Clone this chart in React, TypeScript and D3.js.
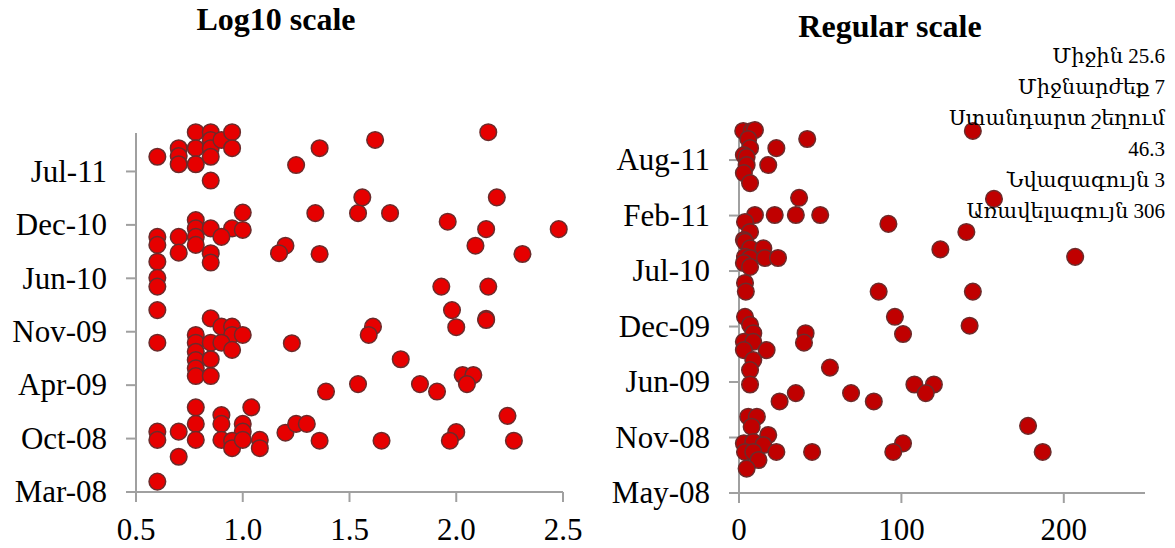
import React from "react";
import * as d3 from "d3";

// ---------- DATA (y = Excel date serial, x = value) ----------
// Left panel: x = log10(value)
const leftLogX: number[] = [
  0.60, 0.70, 0.70, 0.70, 0.78, 0.78, 0.78, 0.85, 0.85, 0.85, 0.85, 0.85, 0.90, 0.95, 0.95, 1.25, 1.36, 1.62, 2.15,
  1.00, 0.78, 0.78, 0.85, 0.95, 1.00, 0.90, 0.60, 0.60, 0.70, 0.78, 0.78, 0.70, 0.85, 0.85, 0.60, 0.60, 0.60, 0.60,
  1.20, 1.17, 1.34, 1.36, 1.54, 1.56, 1.69, 1.96, 2.14, 2.09, 2.19, 2.48, 2.31, 1.93, 2.15, 1.98, 2.14,
  0.85, 0.90, 0.95, 0.78, 0.95, 1.00, 0.60, 0.78, 0.85, 0.90, 0.78, 0.95, 0.78, 0.85, 0.78, 0.78, 0.85,
  1.23, 1.61, 1.59, 2.00, 2.14, 1.74, 2.03, 2.08, 2.05, 1.83, 1.91, 1.54, 1.39,
  0.78, 1.04, 0.60, 0.60, 0.70, 0.78, 0.78, 0.90, 0.90, 0.90, 1.00, 1.00, 0.95, 0.95, 1.00, 1.08, 1.08, 0.70, 0.60,
  1.20, 1.25, 1.30, 1.36, 1.65, 2.00, 1.97, 2.24, 2.27,
];
const leftDate: number[] = [
  40787, 40819, 40790, 40759, 40879, 40819, 40759, 40879, 40850, 40819, 40787, 40698, 40850, 40879, 40819, 40756, 40819, 40850, 40879,
  40578, 40550, 40519, 40519, 40519, 40513, 40487, 40487, 40457, 40487, 40487, 40457, 40428, 40426, 40391, 40394, 40334, 40301, 40213,
  40454, 40426, 40576, 40423, 40576, 40635, 40576, 40544, 40516, 40454, 40635, 40516, 40423, 40301, 40301, 40213, 40180,
  40182, 40151, 40151, 40120, 40120, 40120, 40091, 40091, 40091, 40091, 40057, 40064, 40026, 40029, 39995, 39966, 39966,
  40089, 40151, 40120, 40149, 40176, 40029, 39970, 39970, 39936, 39936, 39908, 39936, 39908,
  39849, 39849, 39758, 39727, 39758, 39787, 39727, 39820, 39787, 39727, 39787, 39758, 39724, 39696, 39727, 39727, 39696, 39664, 39571,
  39754, 39787, 39787, 39724, 39724, 39756, 39724, 39817, 39724,
];

// Right panel: regular values
const rightX: number[] = [
  2.6, 7.8, 9.8, 5.7, 6.8, 23, 42, 144, 3, 4.7, 4.7, 18, 3, 6.8,
  37, 157, 9.8, 22, 35, 50, 92, 3.7, 6.8, 140, 3, 3.7, 6.8, 15, 124, 3.7, 6.8, 16, 24, 207, 3, 6.8, 3.7, 86, 144, 4.2,
  3.7, 96, 6.8, 142, 8.8, 41, 101, 3, 8.8, 40, 3, 17, 8.8, 56, 6.8, 6.8, 108, 120, 115, 35, 69, 25, 83,
  5.7, 11, 7.8, 178, 18, 3, 8.8, 15, 101, 3.7, 8.8, 23, 45, 95, 187, 12, 4.7,
];
const rightDate: number[] = [
  40881, 40881, 40884, 40852, 40819, 40819, 40852, 40881, 40794, 40787, 40758, 40758, 40729, 40693,
  40640, 40636, 40578, 40578, 40578, 40578, 40546, 40553, 40517, 40517, 40488, 40481, 40458, 40458, 40454, 40427, 40423, 40423, 40423, 40427, 40405, 40391, 40333, 40302, 40302, 40302,
  40211, 40211, 40182, 40179, 40152, 40152, 40149, 40121, 40121, 40118, 40091, 40091, 40055, 40028, 40019, 39967, 39967, 39967, 39936, 39936, 39936, 39906, 39906,
  39851, 39851, 39815, 39818, 39785, 39755, 39760, 39749, 39755, 39724, 39724, 39724, 39724, 39724, 39724, 39695, 39664,
];

const leftXTicks = [0.5, 1.0, 1.5, 2.0, 2.5];
const rightXTicks = [0, 100, 200];
const leftYStart = 39532; // Mar-08
const rightYStart = 39576; // May-08
const dateStep = 200;
const leftYTicks = d3.range(7).map((i) => leftYStart + i * dateStep);
const rightYTicks = d3.range(7).map((i) => rightYStart + i * dateStep);

const titles = ["Log10 scale", "Regular scale"];
const statsLines = [
  "Միջին 25.6",
  "Միջնարժեք 7",
  "Ստանդարտ շեղում",
  "46.3",
  "Նվազագույն 3",
  "Առավելագույն 306",
];

// ---------- helpers ----------
const serialToDate = (s: number) => new Date(Date.UTC(1899, 11, 30) + s * 864e5);
const fmtDate = d3.utcFormat("%b-%y");
const FONT = "'Liberation Serif', 'DejaVu Serif', 'Times New Roman', serif";
const AXIS = "#A0A0A0";
const TICK_FS = 31;

type PanelProps = {
  xs: number[];
  ys: number[];
  xScale: d3.ScaleLinear<number, number>;
  yScale: d3.ScaleLinear<number, number>;
  xTicks: number[];
  xFmt: (v: number) => string;
  yTicks: number[];
  fill: string;
};

function Panel({ xs, ys, xScale, yScale, xTicks, xFmt, yTicks, fill }: PanelProps) {
  const [x0, x1] = xScale.range();
  const [yb, yt] = yScale.range();
  return (
    <g>
      <line x1={x0} x2={x0} y1={yt} y2={yb} stroke={AXIS} strokeWidth={2} />
      <line x1={x0} x2={x1} y1={yb} y2={yb} stroke={AXIS} strokeWidth={2} />
      {yTicks.map((t) => (
        <g key={"y" + t}>
          <line x1={x0 - 10} x2={x0} y1={yScale(t)} y2={yScale(t)} stroke={AXIS} strokeWidth={2} />
          <text x={x0 - 29} y={yScale(t) + 10.3} textAnchor="end" fontSize={TICK_FS} fontFamily={FONT} fill="#000">
            {fmtDate(serialToDate(t))}
          </text>
        </g>
      ))}
      {xTicks.map((t) => (
        <g key={"x" + t}>
          <line x1={xScale(t)} x2={xScale(t)} y1={yb} y2={yb + 10} stroke={AXIS} strokeWidth={2} />
          <text x={xScale(t)} y={540} textAnchor="middle" fontSize={TICK_FS} fontFamily={FONT} fill="#000">
            {xFmt(t)}
          </text>
        </g>
      ))}
      {xs.map((v, i) => (
        <circle
          key={i}
          cx={xScale(v)}
          cy={yScale(ys[i])}
          r={8.3}
          fill={fill}
          stroke="#6B2B2B"
          strokeWidth={1.5}
        />
      ))}
    </g>
  );
}

export default function App() {
  const xL = d3.scaleLinear().domain([0.5, 2.5]).range([136, 563]);
  const yL = d3.scaleLinear().domain([leftYStart, leftYStart + 1344]).range([492, 133]);
  const xR = d3.scaleLinear().domain([0, 250]).range([739, 1145]);
  const yR = d3.scaleLinear().domain([rightYStart, rightYStart + 1330]).range([493, 124]);

  return (
    <svg
      width={1175}
      height={548}
      style={{ position: "absolute", left: 0, top: 0, background: "#fff" }}
    >
      <rect width={1175} height={548} fill="#fff" />
      <text x={276} y={30} textAnchor="middle" fontSize={32} fontWeight="bold" fontFamily={FONT}>
        {titles[0]}
      </text>
      <text x={890} y={37} textAnchor="middle" fontSize={32} fontWeight="bold" fontFamily={FONT}>
        {titles[1]}
      </text>
      <Panel
        xs={leftLogX}
        ys={leftDate}
        xScale={xL}
        yScale={yL}
        xTicks={leftXTicks}
        xFmt={d3.format(".1f")}
        yTicks={leftYTicks}
        fill="#E60000"
      />
      <Panel
        xs={rightX}
        ys={rightDate}
        xScale={xR}
        yScale={yR}
        xTicks={rightXTicks}
        xFmt={d3.format("d")}
        yTicks={rightYTicks}
        fill="#C00000"
      />
      {statsLines.map((s, i) => (
        <text key={i} x={1165} y={63 + i * 31} textAnchor="end" fontSize={21} fontFamily={FONT} fill="#000">
          {s}
        </text>
      ))}
    </svg>
  );
}
